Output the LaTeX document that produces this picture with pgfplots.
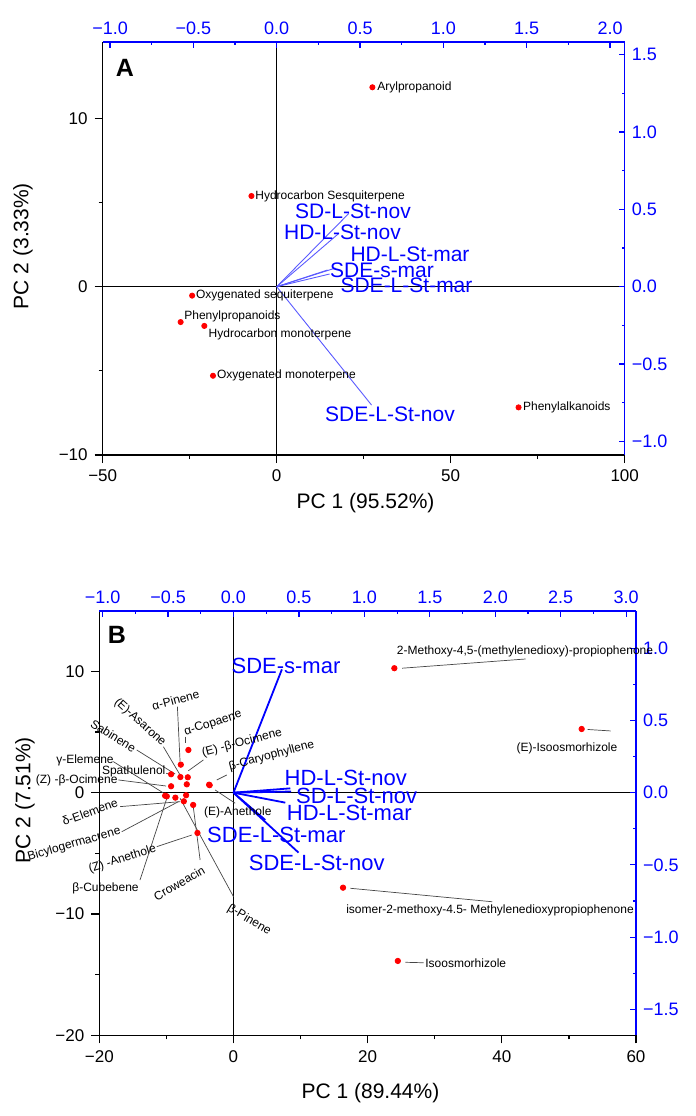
\documentclass[border=0pt]{standalone}
\usepackage{pgfplots}
\pgfplotsset{compat=1.18}
\usepackage{fontspec}
\setmainfont{Liberation Sans}
\definecolor{pblue}{RGB}{0,0,255}
\definecolor{vecA}{RGB}{90,90,255}
\definecolor{lead}{RGB}{70,70,70}
\pgfplotsset{
  mainax/.style={scale only axis, anchor=north west,
    axis x line*=bottom, axis y line*=left,
    axis line style={black,line width=0.7pt},
    tick align=outside, major tick length=4pt, minor tick length=2pt,
    tick style={black,line width=0.6pt},
    ticklabel style={font=\fontsize{8.5}{10}\selectfont}},
  secax/.style={scale only axis, anchor=north west,
    axis x line*=top, axis y line*=right,
    axis line style={pblue,line width=0.8pt},
    tick align=inside, major tick length=3pt, minor tick length=1.5pt,
    tick style={pblue,line width=0.6pt},
    ticklabel style={pblue,font=\fontsize{9}{10}\selectfont}}
}
\pgfplotstableread{
x y
27.5 11.85
-7.26 5.39
-24.3 -0.53
-27.6 -2.10
-20.8 -2.33
-18.3 -5.29
69.5 -7.17
}\scoresA
\pgfplotstableread{
x y
-6.72 3.52
-7.85 2.31
-9.30 1.52
-7.91 1.29
-6.81 1.27
-9.30 0.53
-6.96 0.69
-3.63 0.66
-3.55 0.62
-10.19 -0.25
-9.94 -0.30
-8.66 -0.41
-7.06 -0.21
-7.40 -0.71
-6.01 -1.01
-5.37 -3.32
23.98 10.26
51.9 5.25
16.33 -7.83
24.5 -13.87
}\scoresB
\begin{document}
\begin{tikzpicture}
\path (0,0) rectangle (348pt,-558pt);
% ---------------- Panel A -----------------
\begin{axis}[mainax, at={(51.35pt,-21pt)}, width=261pt, height=206.5pt,
  xmin=-50, xmax=100, ymin=-10, ymax=14.54,
  xtick={-50,0,50,100}, xticklabels={−50,0,50,100}, minor xtick={-25,25,75},
  ytick={-10,0,10}, yticklabels={−10,0,10}, minor ytick={-5,5}]
  \draw[black,line width=0.7pt] (axis cs:0,-10) -- (axis cs:0,14.54);
  \draw[black,line width=0.7pt] (axis cs:-50,0) -- (axis cs:100,0);
  \addplot[only marks, mark=*, mark size=1.3pt, color=red] table {\scoresA};
\end{axis}
\begin{axis}[secax, at={(51.35pt,-21pt)}, width=261pt, height=206.5pt,
  xmin=-1.044, xmax=2.088, ymin=-1.088, ymax=1.582,
  xtick={-1,-0.5,0,0.5,1,1.5,2}, xticklabels={−1.0,−0.5,0.0,0.5,1.0,1.5,2.0},
  minor xtick={-0.75,-0.25,0.25,0.75,1.25,1.75},
  ytick={-1,-0.5,0,0.5,1,1.5}, yticklabels={−1.0,−0.5,0.0,0.5,1.0,1.5},
  minor ytick={-0.75,-0.25,0.25,0.75,1.25}]
  \addplot[vecA,line width=0.45pt] coordinates {(0,0) (0.433,0.474)};
  \addplot[vecA,line width=0.45pt] coordinates {(0,0) (0.373,0.345)};
  \addplot[vecA,line width=0.45pt] coordinates {(0,0) (0.353,0.121)};
  \addplot[vecA,line width=0.45pt] coordinates {(0,0) (0.305,0.108)};
  \addplot[vecA,line width=0.45pt] coordinates {(0,0) (0.317,0.082)};
  \addplot[vecA,line width=0.45pt] coordinates {(0,0) (0.569,-0.765)};
\end{axis}
% ---------------- Panel B -----------------
\begin{axis}[mainax, at={(49.65pt,-305.35pt)}, width=268.35pt, height=212.3pt,
  xmin=-20, xmax=60, ymin=-20, ymax=15, clip=false,
  xtick={-20,0,20,40,60}, xticklabels={−20,0,20,40,60}, minor xtick={-10,10,30,50},
  ytick={-20,-10,0,10}, yticklabels={−20,−10,0,10}, minor ytick={-15,-5,5}]
  \draw[black,line width=0.7pt] (axis cs:0,-20) -- (axis cs:0,15);
  \draw[black,line width=0.7pt] (axis cs:-20,0) -- (axis cs:60,0);
  \begin{scope}[lead,line width=0.35pt]
  \draw (axis cs:-8.36,7.09) -- (axis cs:-7.96,2.56);
  \draw (axis cs:-7.16,4.62) -- (axis cs:-7.16,4.12);
  \draw (axis cs:-10.45,3.79) -- (axis cs:-7.96,1.46);
  \draw (axis cs:-14.42,3.52) -- (axis cs:-8.70,1.54);
  \draw (axis cs:-4.48,2.70) -- (axis cs:-6.72,1.81);
  \draw (axis cs:-0.99,1.46) -- (axis cs:-2.48,1.05);
  \draw (axis cs:-17.91,2.56) -- (axis cs:-10.45,-0.02);
  \draw (axis cs:-10.04,1.60) -- (axis cs:-9.60,1.54);
  \draw (axis cs:-17.16,1.05) -- (axis cs:-10.04,0.55);
  \draw (axis cs:-16.91,-1.15) -- (axis cs:-7.96,-0.74);
  \draw (axis cs:-16.66,-3.22) -- (axis cs:-8.21,-0.74);
  \draw (axis cs:-11.43,-4.45) -- (axis cs:-6.21,-3.49);
  \draw (axis cs:-13.93,-7.20) -- (axis cs:-9.94,-0.46);
  \draw (axis cs:-4.97,-5.55) -- (axis cs:-5.97,-1.26);
  \draw (axis cs:0,-8.57) -- (axis cs:-7.96,-0.46);
  \draw (axis cs:0.25,-0.87) -- (axis cs:-2.73,0.22);
  \draw (axis cs:25.13,10.26) -- (axis cs:43.54,11.02);
  \draw (axis cs:17.42,-7.88) -- (axis cs:38.57,-8.99);
  \draw (axis cs:25.63,-13.98) -- (axis cs:28.36,-14.02);
  \draw (axis cs:52.79,5.21) -- (axis cs:56.21,5.09);
  \end{scope}
  \addplot[only marks, mark=*, mark size=1.35pt, color=red] table {\scoresB};
\end{axis}
\begin{axis}[secax, at={(49.65pt,-305.35pt)}, width=268.35pt, height=212.3pt,
  xmin=-1.025, xmax=3.075, ymin=-1.68, ymax=1.26,
  xtick={-1,-0.5,0,0.5,1,1.5,2,2.5,3}, xticklabels={−1.0,−0.5,0.0,0.5,1.0,1.5,2.0,2.5,3.0},
  minor xtick={-0.75,-0.25,0.25,0.75,1.25,1.75,2.25,2.75},
  ytick={-1.5,-1,-0.5,0,0.5,1}, yticklabels={−1.5,−1.0,−0.5,0.0,0.5,1.0},
  minor ytick={-1.25,-0.75,-0.25,0.25,0.75}]
  \addplot[pblue,line width=0.9pt] coordinates {(0,0) (0.370,0.854)};
  \addplot[pblue,line width=0.9pt] coordinates {(0,0) (0.434,0.030)};
  \addplot[pblue,line width=0.9pt] coordinates {(0,0) (0.441,0.008)};
  \addplot[pblue,line width=0.9pt] coordinates {(0,0) (0.396,-0.069)};
  \addplot[pblue,line width=0.9pt] coordinates {(0,0) (0.243,-0.189)};
  \addplot[pblue,line width=0.9pt] coordinates {(0,0) (0.497,-0.415)};
\end{axis}
% ---------------- Labels (pixel frame) -----------------
\begin{scope}[x=0.5pt,y=-0.5pt,every node/.style={inner sep=0pt}]
  % Panel A
  \node[font=\bfseries\fontsize{12.5}{14}\selectfont] at (125,68) {A};
  \node[font=\fontsize{10.5}{12}\selectfont] at (365.6,503) {PC 1 (95.52\%)};
  \node[font=\fontsize{10.5}{12}\selectfont,rotate=90] at (23,246) {PC 2 (3.33\%)};
  \begin{scope}[every node/.append style={anchor=west,font=\fontsize{6}{7}\selectfont}]
    \node at (377,87) {Arylpropanoid};
    \node at (255,196) {Hydrocarbon Sesquiterpene};
    \node at (195.7,295.7) {Oxygenated sequiterpene};
    \node at (184,316.7) {Phenylpropanoids};
    \node at (208.3,334.3) {Hydrocarbon monoterpene};
    \node at (216.7,375.7) {Oxygenated monoterpene};
    \node at (522.7,407.3) {Phenylalkanoids};
  \end{scope}
  \begin{scope}[every node/.append style={pblue,font=\fontsize{10.5}{12}\selectfont}]
    \node at (353,211) {SD-L-St-nov};
    \node at (342.5,232) {HD-L-St-nov};
    \node at (410,254) {HD-L-St-mar};
    \node at (382,270) {SDE-s-mar};
    \node at (406.5,285) {SDE-L-St-mar};
    \node at (390,414) {SDE-L-St-nov};
  \end{scope}
  % Panel B
  \node[font=\bfseries\fontsize{12.5}{14}\selectfont] at (117,635) {B};
  \node[font=\fontsize{10.5}{12}\selectfont] at (370.5,1093) {PC 1 (89.44\%)};
  \node[font=\fontsize{10.5}{12}\selectfont,rotate=90] at (25,800) {PC 2 (7.51\%)};
  \begin{scope}[every node/.append style={font=\fontsize{6}{7}\selectfont}]
    \node[rotate=15] at (175.7,700) {α-Pinene};
    \node[rotate=18] at (213,723.3) {α-Copaene};
    \node[rotate=-42] at (140,722.5) {(E)-Asarone};
    \node[rotate=-32] at (113.3,735.8) {Sabinene};
    \node[rotate=15] at (242,743) {(E) -β-Ocimene};
    \node[rotate=15] at (271.7,755.7) {β-Caryophyllene};
    \node at (85,760) {γ-Elemene};
    \node at (133.7,771.7) {Spathulenol};
    \node at (76.7,780) {(Z) -β-Ocimene};
    \node[rotate=20] at (90,812) {δ-Elemene};
    \node[rotate=16] at (74.2,844.2) {Bicylogermacrene};
    \node[rotate=17.6] at (122.5,859.2) {(Z) -Anethole};
    \node at (105.5,888.3) {β-Cubebene};
    \node[rotate=30] at (179.2,883.3) {Croweacin};
    \node[rotate=-30.6] at (249.2,920) {β-Pinene};
    \node at (237.8,812) {(E)-Anethole};
    \node at (525,651.7) {2-Methoxy-4,5-(methylenedioxy)-propiophenone};
    \node at (567,748) {(E)-Isoosmorhizole};
    \node at (490,910) {isomer-2-methoxy-4.5- Methylenedioxypropiophenone};
    \node[anchor=west] at (425,963) {Isoosmorhizole};
  \end{scope}
  \begin{scope}[every node/.append style={pblue,font=\fontsize{11}{13}\selectfont}]
    \node at (286,666) {SDE-s-mar};
    \node at (345.8,778.3) {HD-L-St-nov};
    \node at (356.7,796) {SD-L-St-nov};
    \node at (349.3,813.3) {HD-L-St-mar};
    \node at (276.3,835) {SDE-L-St-mar};
    \node at (316.7,862.7) {SDE-L-St-nov};
  \end{scope}
\end{scope}
\end{tikzpicture}
\end{document}
